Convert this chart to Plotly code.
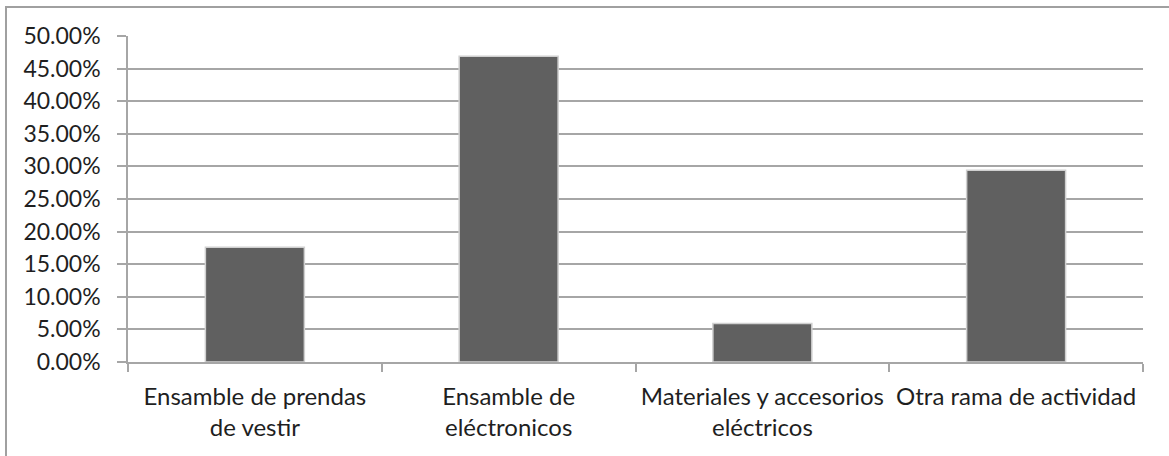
import plotly.graph_objects as go

categories = [
    "Ensamble de prendas<br>de vestir",
    "Ensamble de<br>eléctronicos",
    "Materiales y accesorios<br>eléctricos",
    "Otra rama de actividad",
]
values = [0.176, 0.469, 0.059, 0.294]
tick_vals = [i * 0.05 for i in range(11)]

FONT = "Lato"
TXT = "#1f1f1f"
GRID = "#a6a6a6"

fig = go.Figure()
fig.add_trace(go.Bar(
    x=categories,
    y=values,
    marker=dict(color="#606060", line=dict(color="#d0d0d0", width=1.5)),
    width=0.39,
    hoverinfo="skip",
))

fig.update_layout(
    width=1169,
    height=456,
    margin=dict(l=128, r=26, t=36, b=94, autoexpand=False),
    paper_bgcolor="white",
    plot_bgcolor="white",
    showlegend=False,
    font=dict(family=FONT, size=21, color=TXT),
    xaxis=dict(
        automargin=False,
        showline=True, linecolor=GRID, linewidth=1.5,
        ticks="outside", ticklen=8, tickcolor=GRID, tickwidth=1.5,
        tickson="boundaries", showgrid=False,
        tickfont=dict(family=FONT, size=24, color=TXT),
        ticklabelstandoff=12,
    ),
    yaxis=dict(
        automargin=False,
        range=[0, 0.5], tickvals=tick_vals, tickformat=".2%",
        showline=True, linecolor=GRID, linewidth=1.5,
        ticks="outside", ticklen=9, tickcolor=GRID, tickwidth=1.5,
        showgrid=True, gridcolor=GRID, gridwidth=1.5,
        zeroline=False,
        tickfont=dict(family=FONT, size=23, color=TXT),
        ticklabelstandoff=12,
    ),
    shapes=[dict(
        type="rect", xref="paper", yref="paper",
        x0=-0.1202, x1=1.04, y0=-0.35, y1=1.089,
        line=dict(color="#a0a0a0", width=2), fillcolor="rgba(0,0,0,0)",
        layer="below",
    )],
)

fig.write_html(
    "out.html",
    config={"displayModeBar": False},
    post_script="document.body.style.margin='0';document.body.style.overflow='hidden';",
)
